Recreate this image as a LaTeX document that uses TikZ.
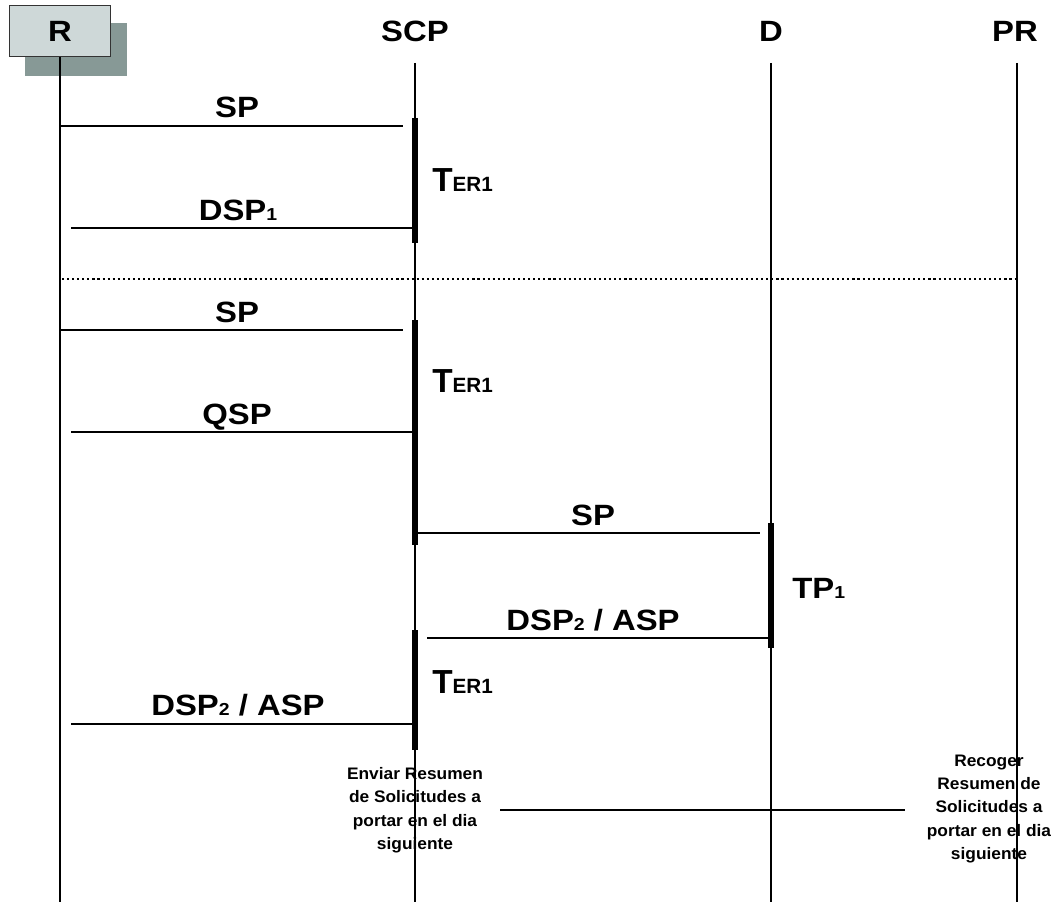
\documentclass[tikz,border=0pt]{standalone}
\usepackage{fontspec}
\setmainfont{Liberation Sans}
\newfontfamily\lblfont{Liberation Sans}[FakeStretch=1.12]
\newfontfamily\notefont{Liberation Sans}[FakeStretch=1.04]
\definecolor{boxfill}{HTML}{CED8D8}
\definecolor{boxshadow}{HTML}{879996}
\definecolor{boxline}{HTML}{333333}
\newcommand\smallsub[1]{{\fontsize{13}{13}\selectfont #1}}
\newcommand\terlabel{{\fontsize{25}{25}\selectfont T}{\fontsize{15.5}{15.5}\selectfont ER1}}
\begin{document}
\begin{tikzpicture}[x=0.75pt,y=-0.75pt,
  life/.style={line width=1.5pt},
  msg/.style={line width=1.5pt},
  act/.style={line width=4.5pt},
  sep/.style={line width=1.6pt, dash pattern=on 1.6pt off 2.2pt},
  lbl/.style={font=\lblfont\fontsize{22}{26}\selectfont\bfseries, inner sep=0pt},
  ter/.style={font=\bfseries, inner sep=0pt, anchor=base west},
  note/.style={font=\notefont\fontsize{12.5}{17.6}\selectfont\bfseries, align=center, inner sep=0pt}]
\useasboundingbox (0,0) rectangle (1055,902);
% header box with shadow
\node[fill=boxshadow, minimum width=76.5pt, minimum height=39.75pt, inner sep=0pt] (Rshadow) at (76,49.5) {};
\node[fill=boxfill, draw=boxline, line width=0.75pt, minimum width=75.75pt, minimum height=38.25pt, inner sep=0pt] (Rbox) at (59.5,31.5) {};
\node[lbl] (Rname) at (60,31) {R};
\node[lbl] (SCPname) at (415,31) {SCP};
\node[lbl] (Dname) at (771,31) {D};
\node[lbl] (PRname) at (1015,31) {PR};
% lifelines
\coordinate (Rt) at (60,57);   \coordinate (Rb) at (60,902);
\coordinate (St) at (415,63);  \coordinate (Sb) at (415,902);
\coordinate (Dt) at (771,63);  \coordinate (Db) at (771,902);
\coordinate (Pt) at (1017,63); \coordinate (Pb) at (1017,902);
\draw[life] (Rt) -- (Rb);
\draw[life] (St) -- (Sb);
\draw[life] (Dt) -- (Db);
\draw[life] (Pt) -- (Pb);
% activation bars
\coordinate (a1t) at (415,118); \coordinate (a1b) at (415,243);
\coordinate (a2t) at (415,320); \coordinate (a2b) at (415,545);
\coordinate (a3t) at (415,630); \coordinate (a3b) at (415,750);
\coordinate (a4t) at (771,523); \coordinate (a4b) at (771,648);
\draw[act] (a1t) -- (a1b);
\draw[act] (a2t) -- (a2b);
\draw[act] (a3t) -- (a3b);
\draw[act] (a4t) -- (a4b);
% timer labels
\node[ter] (ter1) at (432,192) {\terlabel};
\node[ter] (ter2) at (432,392) {\terlabel};
\node[ter] (ter3) at (432,693) {\terlabel};
\node[lbl, anchor=base west] (tp1) at (792,598) {TP\smallsub{1}};
% separator
\coordinate (sepL) at (62,279); \coordinate (sepR) at (1017,279);
\draw[sep] (sepL) -- (sepR);
% messages
\coordinate (m1a) at (60,126);  \coordinate (m1b) at (403,126);
\coordinate (m2a) at (71,228);  \coordinate (m2b) at (415,228);
\coordinate (m3a) at (60,330);  \coordinate (m3b) at (403,330);
\coordinate (m4a) at (71,432);  \coordinate (m4b) at (415,432);
\coordinate (m5a) at (418,533); \coordinate (m5b) at (760,533);
\coordinate (m6a) at (427,638); \coordinate (m6b) at (771,638);
\coordinate (m7a) at (71,724);  \coordinate (m7b) at (415,724);
\coordinate (m8a) at (500,810); \coordinate (m8b) at (905,810);
\draw[msg] (m1a) -- (m1b);
\draw[msg] (m2a) -- (m2b);
\draw[msg] (m3a) -- (m3b);
\draw[msg] (m4a) -- (m4b);
\draw[msg] (m5a) -- (m5b);
\draw[msg] (m6a) -- (m6b);
\draw[msg] (m7a) -- (m7b);
\draw[msg] (m8a) -- (m8b);
\node[lbl, anchor=base] (l1) at (237,118) {SP};
\node[lbl, anchor=base] (l2) at (238,220) {DSP\smallsub{1}};
\node[lbl, anchor=base] (l3) at (237,322) {SP};
\node[lbl, anchor=base] (l4) at (237,424) {QSP};
\node[lbl, anchor=base] (l5) at (593,525) {SP};
\node[lbl, anchor=base] (l6) at (593,630) {DSP\smallsub{2} / ASP};
\node[lbl, anchor=base] (l7) at (238,715) {DSP\smallsub{2} / ASP};
% notes
\node[note] (noteL) at (415,810) {Enviar Resumen\\de Solicitudes a\\portar en el dia\\siguiente};
\node[note] (noteR) at (989,809) {Recoger\\Resumen de\\Solicitudes a\\portar en el dia\\siguiente};
\end{tikzpicture}
\end{document}
